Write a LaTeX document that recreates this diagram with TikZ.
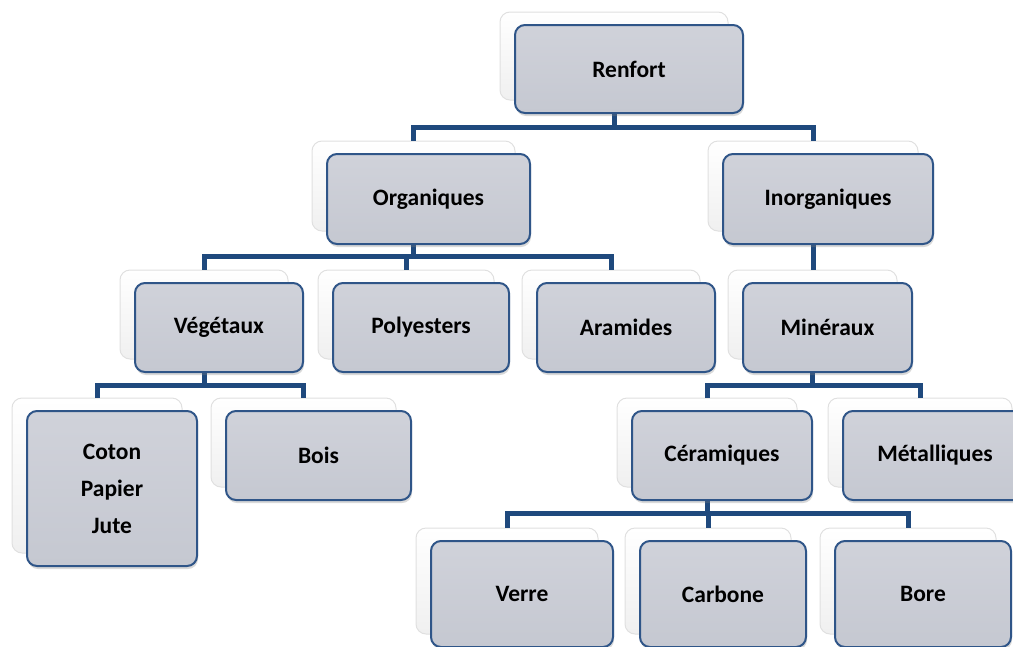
\documentclass[tikz,border=0pt]{standalone}
\usepackage{fontspec}
\setmainfont{Carlito}
\usetikzlibrary{shadows}
\definecolor{linkblue}{RGB}{31,73,125}
\definecolor{boxedge}{RGB}{47,85,136}
\definecolor{boxfill}{RGB}{197,200,209}
\definecolor{boxtop}{RGB}{208,210,218}
\begin{document}
\begin{tikzpicture}[x=1pt,y=-1pt,
  back/.style={rounded corners=10pt, draw=black!12, line width=1pt, top color=white, bottom color=black!6, inner sep=0pt},
  box/.style={rounded corners=10pt, draw=boxedge, line width=2pt, top color=boxtop, bottom color=boxfill, inner sep=0pt, align=center, font=\bfseries\fontsize{23.5}{37}\selectfont, drop shadow={shadow xshift=1pt, shadow yshift=-3pt, opacity=.3}},
  link/.style={draw=linkblue, line width=5pt}]
\useasboundingbox (0,0) rectangle (1013,646);
\node[back, minimum width=228pt, minimum height=88pt] (renfS) at (614,56){};
\node[back, minimum width=203pt, minimum height=90pt] (orgS) at (413.5,186){};
\node[back, minimum width=210pt, minimum height=90pt] (inorgS) at (813,186){};
\node[back, minimum width=168pt, minimum height=89pt] (vegS) at (204,314.5){};
\node[back, minimum width=176pt, minimum height=89pt] (polyS) at (406,314.5){};
\node[back, minimum width=178pt, minimum height=89pt] (aramS) at (611,314.5){};
\node[back, minimum width=169pt, minimum height=89pt] (mineS) at (812.5,314.5){};
\node[back, minimum width=170pt, minimum height=155pt] (cotonS) at (97,475.5){};
\node[back, minimum width=185pt, minimum height=89pt] (boisS) at (303.5,442.5){};
\node[back, minimum width=180pt, minimum height=89pt] (ceraS) at (707,442.5){};
\node[back, minimum width=184pt, minimum height=89pt] (metalS) at (920,442.5){};
\node[back, minimum width=182pt, minimum height=106pt] (verreS) at (507,581){};
\node[back, minimum width=166pt, minimum height=106pt] (carbS) at (708,581){};
\node[back, minimum width=176pt, minimum height=106pt] (boreS) at (908,581){};
\coordinate (j1) at ([yshift=-27pt]renfS.south);
\draw[link] (renfS.south) -- (j1);
\draw[link] (orgS.north) |- (j1) -| (inorgS.north);
\coordinate (j2) at ([yshift=-25pt]orgS.south);
\draw[link] (orgS.south) -- (j2);
\draw[link] (vegS.north) |- (j2) -| (aramS.north);
\draw[link] (polyS.north) -- (polyS.north |- j2);
\draw[link] (inorgS.south) -- (inorgS.south |- mineS.north);
\coordinate (j3) at ([yshift=-26pt]vegS.south);
\draw[link] (vegS.south) -- (j3);
\draw[link] (cotonS.north) |- (j3) -| (boisS.north);
\coordinate (j4) at ([yshift=-26pt]mineS.south);
\draw[link] (mineS.south) -- (j4);
\draw[link] (ceraS.north) |- (j4) -| (metalS.north);
\coordinate (j5) at ([yshift=-26pt]ceraS.south);
\draw[link] (ceraS.south) -- (j5);
\draw[link] (verreS.north) |- (j5) -| (boreS.north);
\draw[link] (carbS.north) -- (carbS.north |- j5);
\node[box, minimum width=228pt, minimum height=88pt] (renf) at ([shift={(15,13)}]renfS.center) {Renfort};
\node[box, minimum width=203pt, minimum height=90pt] (org) at ([shift={(15,13)}]orgS.center) {Organiques};
\node[box, minimum width=210pt, minimum height=90pt] (inorg) at ([shift={(15,13)}]inorgS.center) {Inorganiques};
\node[box, minimum width=168pt, minimum height=89pt] (veg) at ([shift={(15,13)}]vegS.center) {Végétaux};
\node[box, minimum width=176pt, minimum height=89pt] (poly) at ([shift={(15,13)}]polyS.center) {Polyesters};
\node[box, minimum width=178pt, minimum height=89pt] (aram) at ([shift={(15,13)}]aramS.center) {Aramides};
\node[box, minimum width=169pt, minimum height=89pt] (mine) at ([shift={(15,13)}]mineS.center) {Minéraux};
\node[box, minimum width=170pt, minimum height=155pt] (coton) at ([shift={(15,13)}]cotonS.center) {Coton\\Papier\\Jute};
\node[box, minimum width=185pt, minimum height=89pt] (bois) at ([shift={(15,13)}]boisS.center) {Bois};
\node[box, minimum width=180pt, minimum height=89pt] (cera) at ([shift={(15,13)}]ceraS.center) {Céramiques};
\node[box, minimum width=184pt, minimum height=89pt] (metal) at ([shift={(15,13)}]metalS.center) {Métalliques};
\node[box, minimum width=182pt, minimum height=106pt] (verre) at ([shift={(15,13)}]verreS.center) {Verre};
\node[box, minimum width=166pt, minimum height=106pt] (carb) at ([shift={(15,13)}]carbS.center) {Carbone};
\node[box, minimum width=176pt, minimum height=106pt] (bore) at ([shift={(15,13)}]boreS.center) {Bore};
\end{tikzpicture}
\end{document}
